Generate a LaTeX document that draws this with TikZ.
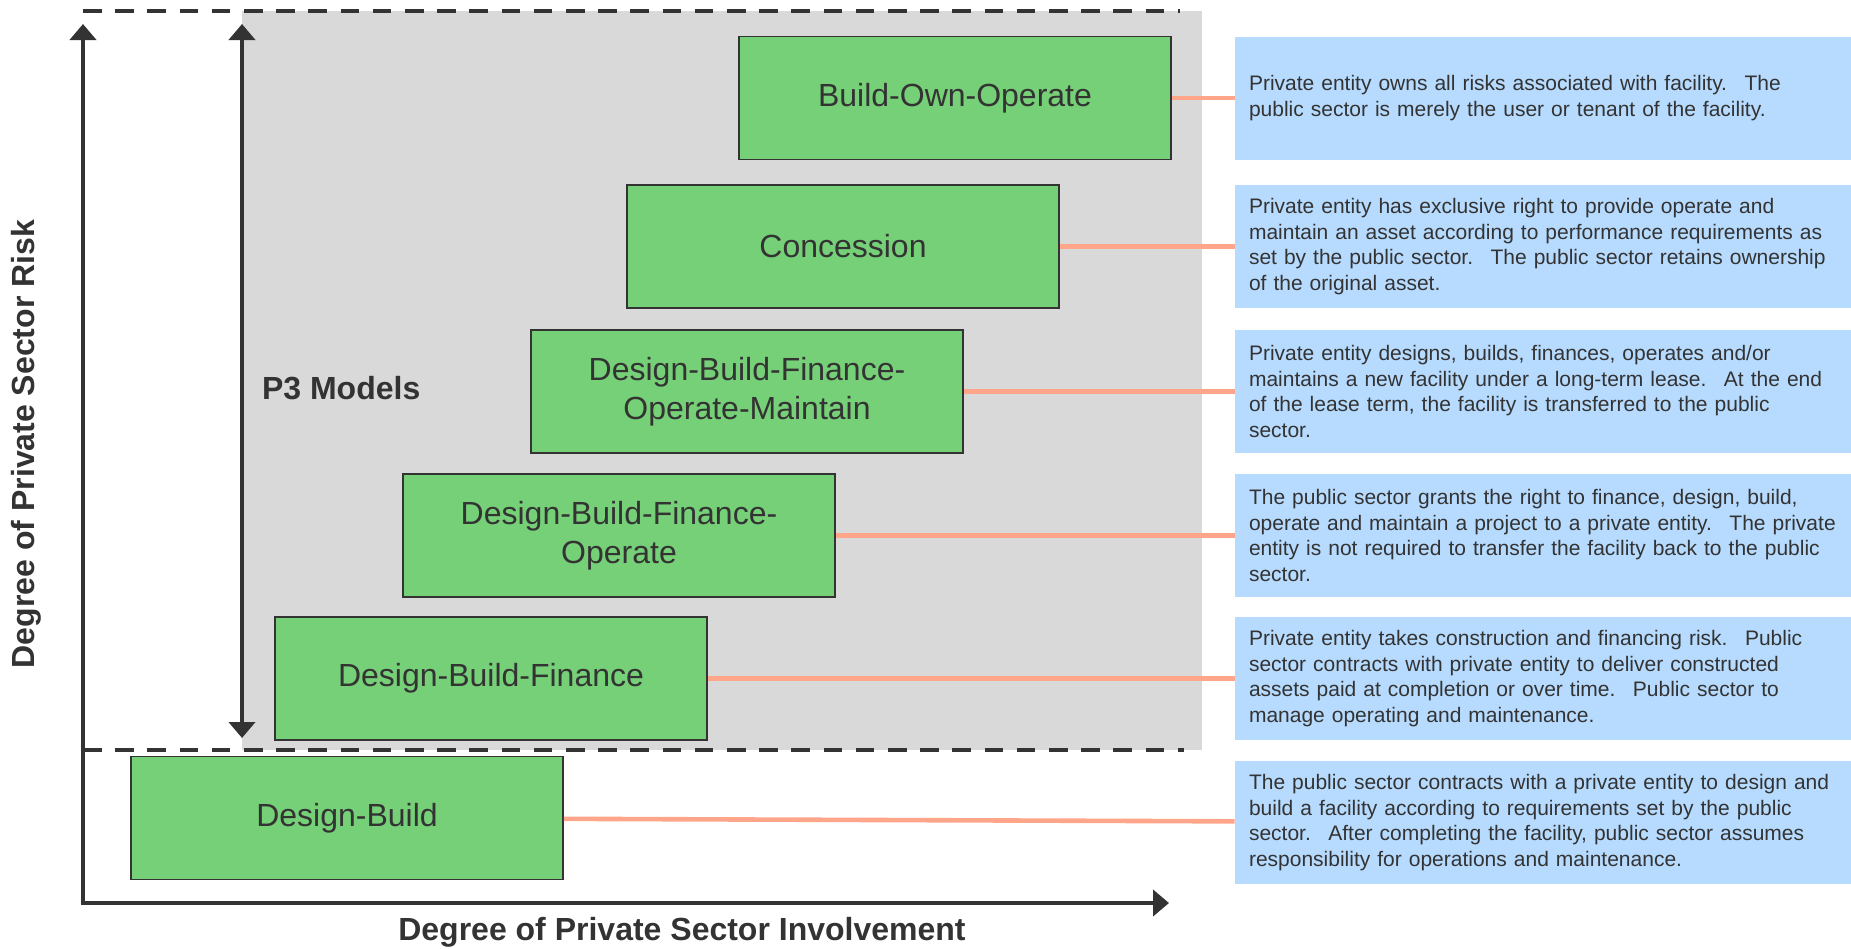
\documentclass[tikz,border=0pt]{standalone}
\usepackage{fontspec}
\setmainfont{Liberation Sans}
\usetikzlibrary{arrows.meta}

\definecolor{boxgreen}{HTML}{76D077}
\definecolor{noteblue}{HTML}{B7DBFE}
\definecolor{zone}{HTML}{D9D9D9}
\definecolor{ink}{HTML}{333333}
\definecolor{tiecol}{HTML}{FFA589}

\begin{document}
\begin{tikzpicture}[x=0.5pt, y=-0.5pt, >={Triangle[width=13pt,length=8pt]},
    font=\fontsize{16}{19.5}\selectfont, text=ink]

  \tikzstyle{model}=[draw=ink, line width=0.8pt, fill=boxgreen,
    minimum width=216pt, minimum height=61.5pt, align=center]
  \tikzstyle{note}=[fill=noteblue, minimum height=61.5pt,
    text width=294pt, inner xsep=7pt, align=left,
    font=\fontsize{10.5}{12.9}\selectfont]
  \tikzstyle{tie}=[draw=tiecol, line width=2.3pt]
  \tikzstyle{limit}=[draw=ink, line width=2pt, dash pattern=on 9.3pt off 6.8pt]
  \tikzstyle{axis}=[draw=ink, line width=2pt, <->]
  \tikzstyle{title}=[font=\fontsize{16}{19}\selectfont\bfseries]

  \useasboundingbox (0,0) rectangle (1851,948);

  % P3 zone
  \fill [zone] (242,11) rectangle (1202,750);
  \draw [limit] (83,11) -- (1180,11);
  \draw [limit] (83,750) -- (1184,750);

  \coordinate (top) at (83,24);
  \coordinate (origin) at (83,903);
  \coordinate (right) at (1169,903);
  \draw [axis] (top) -- (origin) -- (right);

  \coordinate (p3top) at (242,24);
  \coordinate (p3bot) at (242,738);
  \draw [axis] (p3top) -- (p3bot);

  \node [title, anchor=west] (p3) at (255,388) {P3 Models};
  \node [title, rotate=90] (risk) at (26,444) {Degree of Private Sector Risk};
  \node [title] (involve) at (682,932) {Degree of Private Sector Involvement};

  % models
  \node [model] (boo) at (955,98) {Build-Own-Operate};
  \node [model] (conc) at (843,246.5) {Concession};
  \node [model] (dbfom) at (747,391.5) {Design-Build-Finance-\\Operate-Maintain};
  \node [model] (dbfo) at (619,535.5) {Design-Build-Finance-\\Operate};
  \node [model] (dbf) at (491,678.5) {Design-Build-Finance};
  \node [model] (db) at (347,818) {Design-Build};

  % descriptions
  \node [note] (boo-txt) at (1543,98) {Private entity owns all risks associated with facility.~ The\\
    public sector is merely the user or tenant of the facility.};
  \node [note] (conc-txt) at (1543,246.5) {Private entity has exclusive right to provide operate and\\
    maintain an asset according to performance requirements as\\
    set by the public sector.~ The public sector retains ownership\\
    of the original asset.};
  \node [note] (dbfom-txt) at (1543,391.5) {Private entity designs, builds, finances, operates and/or\\
    maintains a new facility under a long-term lease.~ At the end\\
    of the lease term, the facility is transferred to the public\\
    sector.};
  \node [note] (dbfo-txt) at (1543,535.5) {The public sector grants the right to finance, design, build,\\
    operate and maintain a project to a private entity.~ The private\\
    entity is not required to transfer the facility back to the public\\
    sector.};
  \node [note] (dbf-txt) at (1543,678.5) {Private entity takes construction and financing risk.~ Public\\
    sector contracts with private entity to deliver constructed\\
    assets paid at completion or over time.~ Public sector to\\
    manage operating and maintenance.};
  \node [note] (db-txt) at (1543,822.5) {The public sector contracts with a private entity to design and\\
    build a facility according to requirements set by the public\\
    sector.~ After completing the facility, public sector assumes\\
    responsibility for operations and maintenance.};

  \draw [tie] (boo) -- (boo-txt);
  \draw [tie] (conc) -- (conc-txt);
  \draw [tie] (dbfom) -- (dbfom-txt);
  \draw [tie] (dbfo) -- (dbfo-txt);
  \draw [tie] (dbf) -- (dbf-txt);
  \draw [tie] (db) -- (db-txt);

\end{tikzpicture}
\end{document}
